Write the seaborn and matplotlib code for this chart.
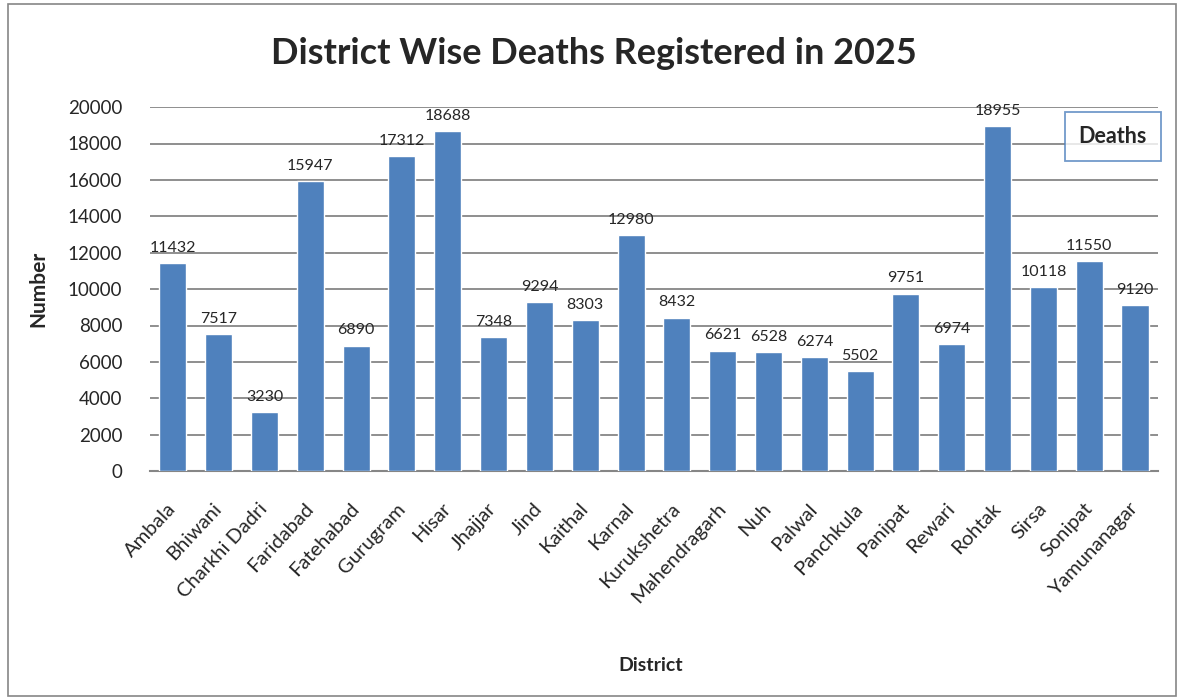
import matplotlib
matplotlib.use("Agg")
import matplotlib.pyplot as plt
import seaborn as sns
import pandas as pd
from matplotlib.patches import Rectangle
from matplotlib.lines import Line2D

districts = ["Ambala", "Bhiwani", "Charkhi Dadri", "Faridabad", "Fatehabad", "Gurugram",
             "Hisar", "Jhajjar", "Jind", "Kaithal", "Karnal", "Kurukshetra", "Mahendragarh",
             "Nuh", "Palwal", "Panchkula", "Panipat", "Rewari", "Rohtak", "Sirsa", "Sonipat",
             "Yamunanagar"]
deaths = [11432, 7517, 3230, 15947, 6890, 17312, 18688, 7348, 9294, 8303, 12980, 8432,
          6621, 6528, 6274, 5502, 9751, 6974, 18955, 10118, 11550, 9120]
yticks = [0, 2000, 4000, 6000, 8000, 10000, 12000, 14000, 16000, 18000, 20000]

sns.set_theme(style="white")
plt.rcParams['font.family'] = ['Lato', 'DejaVu Sans']

df = pd.DataFrame({"District": districts, "Deaths": deaths})

fig = plt.figure(figsize=(11.83, 7.00), dpi=100)
ax = fig.add_axes([0.1268, 0.327, 0.852, 0.520])

sns.barplot(data=df, x="District", y="Deaths", color="#4F81BD", saturation=1,
            width=0.59, ax=ax, zorder=3)

ax.set_ylim(0, 20000)
ax.set_yticks(yticks)
ax.set_yticklabels([str(t) for t in yticks], fontsize=13.5)
ax.set_xlim(-0.5, len(districts) - 0.5)
ax.yaxis.grid(True, color="#868686", linewidth=1.3, zorder=0)
ax.set_axisbelow(True)
for s in ["left", "right", "top"]:
    ax.spines[s].set_visible(False)
ax.spines["bottom"].set_color("#868686")
ax.spines["bottom"].set_linewidth(1.5)
ax.tick_params(axis="both", length=0)
ax.tick_params(axis="y", pad=20)
ax.tick_params(axis="x", pad=25)
ax.set_xticks(range(len(districts)))
ax.set_xticklabels(districts, rotation=47, ha="right", va="center",
                   rotation_mode="anchor", fontsize=14.5)

ax.bar_label(ax.containers[0], labels=[str(v) for v in deaths], padding=6, fontsize=11.5)

ax.set_xlabel("District", fontsize=14, fontweight="bold")
ax.set_ylabel("Number", fontsize=15, fontweight="bold", labelpad=14)
ax.xaxis.set_label_coords(0.497, -0.51)

fig.suptitle("District Wise Deaths Registered in 2025", fontsize=26, fontweight="bold",
             x=0.502, y=0.947)

handle = Line2D([], [], linestyle="none", marker=None)
leg = ax.legend([handle], ["Deaths"], loc="upper right", bbox_to_anchor=(1.003, 0.986),
                borderaxespad=0, handlelength=0, handletextpad=0, frameon=True,
                fancybox=False, prop={"weight": "bold", "size": 15.5},
                borderpad=0.65)
leg.get_frame().set_edgecolor("#4F81BD")
leg.get_frame().set_linewidth(1.3)

fig.patches.append(Rectangle((0.007, 0.006), 0.987, 0.988, transform=fig.transFigure,
                             fill=False, edgecolor="#868686", linewidth=1.2))

fig.savefig("out.png", dpi=100)
